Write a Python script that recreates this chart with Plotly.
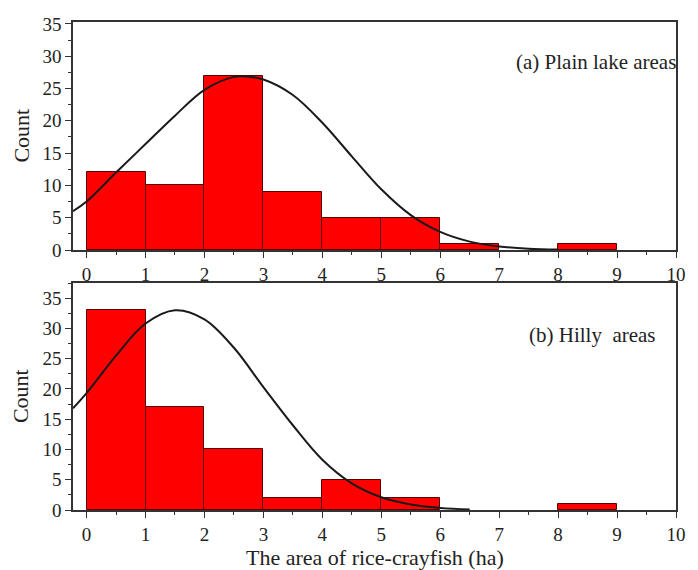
import plotly.graph_objects as go

# ---- data ----
bin_left = [0, 1, 2, 3, 4, 5, 6, 7, 8, 9]
plain_counts = [12, 10, 27, 9, 5, 5, 1, 0, 1, 0]
hilly_counts = [33, 17, 10, 2, 5, 2, 0, 0, 1, 0]

plain_fit_x = [-0.23, 0, 0.5, 1, 1.5, 2, 2.5, 2.65, 3, 3.5, 4, 4.5, 5, 5.5, 6, 6.5, 7, 7.5, 8]
plain_fit_y = [6.0, 7.5, 12.0, 16.4, 20.8, 24.8, 26.8, 26.9, 26.4, 24.0, 19.7, 14.5, 9.4, 5.4, 2.8, 1.3, 0.55, 0.2, 0.07]

hilly_fit_x = [-0.23, 0, 0.5, 1, 1.5, 2, 2.5, 3, 3.5, 4, 4.5, 5, 5.5, 6, 6.5]
hilly_fit_y = [16.8, 19.3, 25.5, 30.8, 33.0, 31.5, 26.8, 20.3, 14.0, 8.3, 4.4, 2.1, 0.9, 0.35, 0.1]

x_ticks = [0, 1, 2, 3, 4, 5, 6, 7, 8, 9, 10]
y_ticks = [0, 5, 10, 15, 20, 25, 30, 35]

panel_labels = ["(a) Plain lake areas", "(b) Hilly  areas"]
x_title = "The area of rice-crayfish (ha)"
y_title = "Count"

FONT = "Liberation Serif, Times New Roman, serif"
TXT = "#222222"
AX = "#333333"

W, H = 698, 570
L, R, T, B = 73, 15, 22, 60
PH = H - T - B  # 488

fig = go.Figure()

def add_panel(counts, fx, fy, xa, ya):
    xs = [b for b, c in zip(bin_left, counts) if c > 0]
    ys = [c for c in counts if c > 0]
    fig.add_trace(go.Bar(x=xs, y=ys, offset=0, width=1,
                         marker=dict(color="#FF0000", line=dict(color="#5a0000", width=1)),
                         xaxis=xa, yaxis=ya, showlegend=False))
    fig.add_trace(go.Scatter(x=fx, y=fy, mode="lines",
                             line=dict(color="#1a1a1a", width=2, shape="spline", smoothing=1.0),
                             xaxis=xa, yaxis=ya, showlegend=False, cliponaxis=True))

add_panel(plain_counts, plain_fit_x, plain_fit_y, "x", "y")
add_panel(hilly_counts, hilly_fit_x, hilly_fit_y, "x2", "y2")

xcommon = dict(range=[-0.23, 10], tickvals=x_ticks, ticks="outside", ticklen=6,
               tickwidth=1.2, tickcolor=AX, showline=True, linecolor=AX, linewidth=1.5,
               mirror=True, showgrid=False, zeroline=False, ticklabeloverflow="allow",
               tickfont=dict(family=FONT, size=19, color=TXT),
               minor=dict(dtick=0.5, ticks="outside", ticklen=3, tickcolor=AX))
ycommon = dict(tickvals=y_ticks, ticks="outside", ticklen=6, tickwidth=1.2,
               tickcolor=AX, showline=True, linecolor=AX, linewidth=1.5, mirror=True,
               showgrid=False, zeroline=False, ticklabeloverflow="allow",
               tickfont=dict(family=FONT, size=19, color=TXT),
               minor=dict(dtick=2.5, ticks="outside", ticklen=3, tickcolor=AX))

top_lo = (510 - 250) / PH
bot_hi = (510 - 283) / PH

fig.update_layout(
    width=W, height=H,
    margin=dict(l=L, r=R, t=T, b=B),
    paper_bgcolor="white", plot_bgcolor="white",
    bargap=0,
    xaxis=dict(domain=[0, 1], anchor="y", **xcommon),
    yaxis=dict(domain=[top_lo, 1], anchor="x", range=[0, 35.3], **ycommon),
    xaxis2=dict(domain=[0, 1], anchor="y2", **xcommon),
    yaxis2=dict(domain=[0, bot_hi], anchor="x2", range=[0, 37.5], **ycommon),
    annotations=[
        dict(text=panel_labels[0], xref="x domain", yref="y domain", x=1.004, y=0.825,
             xanchor="right", yanchor="middle", showarrow=False,
             font=dict(family=FONT, size=21, color=TXT)),
        dict(text=panel_labels[1], xref="x2 domain", yref="y2 domain", x=0.970, y=0.77,
             xanchor="right", yanchor="middle", showarrow=False,
             font=dict(family=FONT, size=21, color=TXT)),
        dict(text=y_title, xref="x domain", yref="y domain", x=-53 / 610, y=0.5, xanchor="center",
             yanchor="middle", textangle=-90, showarrow=False,
             font=dict(family=FONT, size=22, color=TXT)),
        dict(text=y_title, xref="x2 domain", yref="y2 domain", x=-53 / 610, y=0.5, xanchor="center",
             yanchor="middle", textangle=-90, showarrow=False,
             font=dict(family=FONT, size=22, color=TXT)),
        dict(text=x_title, xref="x2 domain", yref="y2 domain", x=0.5, y=-33 / 227,
             xanchor="center", yanchor="top", showarrow=False,
             font=dict(family=FONT, size=22, color=TXT)),
    ],
)

fig.write_html("out.html", config={"displayModeBar": False},
               post_script="document.body.style.margin='0';")
